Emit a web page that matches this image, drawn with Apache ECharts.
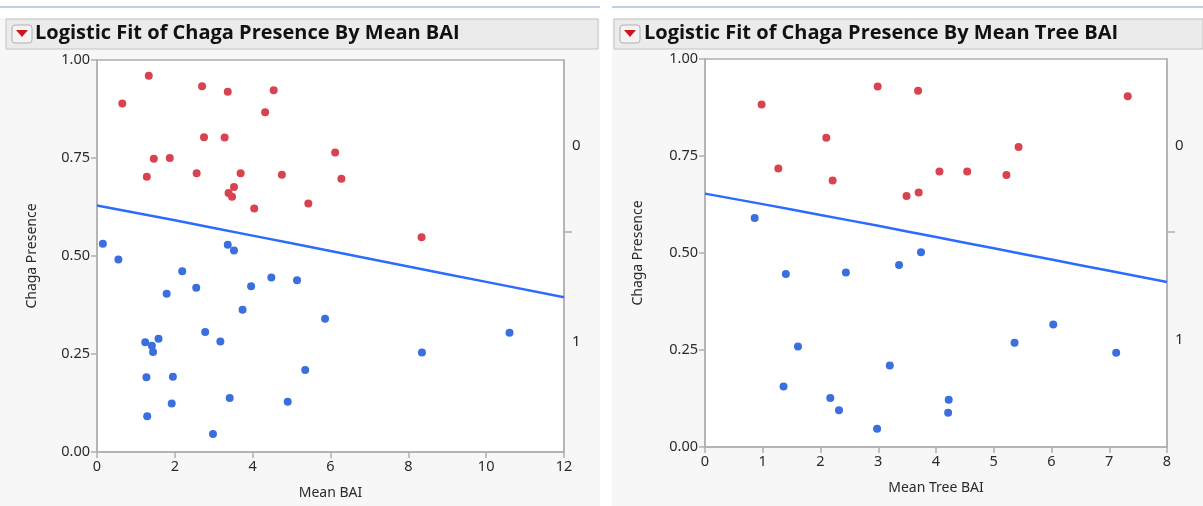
<!DOCTYPE html>
<html>
<head>
<meta charset="utf-8">
<script src="https://cdn.jsdelivr.net/npm/echarts@6/dist/echarts.min.js"></script>
<style>
html,body{margin:0;padding:0;background:#f7f7f7;}
#chart{width:1203px;height:506px;}
</style>
</head>
<body>
<div id="chart"></div>
<script>
// ---------- data ----------
const titles = ['Logistic Fit of Chaga Presence By Mean BAI', 'Logistic Fit of Chaga Presence By Mean Tree BAI'];
const xNames = ['Mean BAI', 'Mean Tree BAI'];
const yName = 'Chaga Presence';
const yTicks = [0, 0.25, 0.5, 0.75, 1];
const levelLabels = ['0', '1'];

// Left panel: Mean BAI
const baiRedX = [1.33,0.65,2.70,3.36,4.54,4.32,2.75,3.28,1.46,1.87,1.28,2.56,3.69,4.75,3.52,3.38,3.47,4.04,5.43,6.12,6.28,8.34];
const baiRedY = [0.960,0.889,0.933,0.919,0.923,0.867,0.803,0.802,0.748,0.750,0.702,0.711,0.711,0.707,0.676,0.661,0.651,0.621,0.634,0.764,0.697,0.548];
const baiBlueX = [0.15,3.36,3.52,0.55,2.19,1.79,2.55,3.96,4.48,5.14,3.74,5.86,2.78,3.17,1.24,1.58,1.41,1.44,1.27,1.95,3.41,1.92,4.90,5.35,1.29,2.98,10.60,8.35];
const baiBlueY = [0.531,0.529,0.514,0.491,0.461,0.404,0.419,0.423,0.445,0.438,0.363,0.340,0.306,0.282,0.280,0.289,0.271,0.255,0.191,0.192,0.138,0.124,0.128,0.209,0.091,0.046,0.304,0.254];
const baiFitX = [0, 2, 4, 6, 8, 10, 12];
const baiFitY = [0.629, 0.591, 0.552, 0.513, 0.473, 0.434, 0.395];
const baiSplit = 0.563;

// Right panel: Mean Tree BAI
const treeRedX = [0.98,2.99,3.69,2.10,1.27,2.21,3.49,3.70,4.06,4.54,5.22,5.43,7.32];
const treeRedY = [0.883,0.929,0.918,0.797,0.718,0.687,0.647,0.656,0.710,0.710,0.701,0.773,0.904];
const treeBlueX = [0.86,3.74,3.36,1.40,2.44,1.61,3.20,1.36,2.17,2.32,2.98,4.22,4.21,5.36,6.03,7.12];
const treeBlueY = [0.590,0.502,0.469,0.446,0.450,0.259,0.210,0.156,0.126,0.095,0.047,0.122,0.088,0.269,0.316,0.243];
const treeFitX = [0, 1, 2, 3, 4, 5, 6, 7, 8];
const treeFitY = [0.653, 0.626, 0.598, 0.570, 0.541, 0.512, 0.483, 0.454, 0.425];
const treeSplit = 0.554;

// ---------- chart ----------
const zip = (a, b) => a.map((v, i) => [v, b[i]]);
const RED = '#d8434f', BLUE = '#3a6fdd', LINE = '#2b6cff';
const AXIS = '#b0b0b0';
const FONT = 'Noto Sans';
const TXT = '#2a2a2a';
const FS = 14.5;

function xAxis(gi, max, interval, name) {
  return {
    type: 'value', gridIndex: gi, min: 0, max: max, interval: interval,
    name: name, nameLocation: 'middle', nameGap: 34,
    nameTextStyle: { fontFamily: FONT, fontSize: 14, color: TXT },
    axisLine: { show: true, lineStyle: { color: AXIS, width: 1.5 } },
    axisTick: { show: true, length: 6, lineStyle: { color: AXIS, width: 1.5 } },
    axisLabel: { fontFamily: FONT, fontSize: FS, color: TXT, margin: 7 },
    splitLine: { show: false }
  };
}
function yAxis(gi, gap) {
  return {
    type: 'value', gridIndex: gi, min: 0, max: 1, interval: 0.25,
    name: yName, nameLocation: 'middle', nameGap: gap, nameRotate: 90,
    nameTextStyle: { fontFamily: FONT, fontSize: 14, color: TXT },
    axisLine: { show: true, lineStyle: { color: AXIS, width: 1.5 } },
    axisTick: { show: true, length: 6, lineStyle: { color: AXIS, width: 1.5 } },
    axisLabel: { fontFamily: FONT, fontSize: FS, color: TXT, margin: 7,
      formatter: v => v.toFixed(2) },
    splitLine: { show: false }
  };
}
function levelAxis(gi, split) {
  const mids = [(1 + split) / 2, split / 2];
  return {
    type: 'value', gridIndex: gi, min: 0, max: 1, position: 'right',
    axisLine: { show: true, lineStyle: { color: AXIS, width: 1.5 } },
    axisTick: { show: true, length: 8, customValues: [split], lineStyle: { color: AXIS, width: 1.5 } },
    axisLabel: { fontFamily: FONT, fontSize: 15, color: TXT, margin: 8,
      customValues: mids,
      formatter: v => (v > split ? levelLabels[0] : levelLabels[1]) },
    splitLine: { show: false }
  };
}
function scatter(xi, yi, data, color) {
  return { type: 'scatter', xAxisIndex: xi, yAxisIndex: yi, data: data,
    symbolSize: 8, itemStyle: { color: color, opacity: 1 }, silent: true, z: 3 };
}
function fitLine(xi, yi, data) {
  return { type: 'line', xAxisIndex: xi, yAxisIndex: yi, data: data, smooth: true,
    showSymbol: false, lineStyle: { color: LINE, width: 2.5 }, silent: true, z: 2 };
}
function header(x, w) {
  return [
    { type: 'rect', shape: { x: x, y: 19, width: w, height: 30 },
      style: { fill: '#ebebeb', stroke: '#c4c4c4', lineWidth: 1 } },
    { type: 'rect', shape: { x: x + 6, y: 25, width: 20, height: 18, r: 3 },
      style: { fill: '#f3f3f3', stroke: '#b0b0b0', lineWidth: 1 } },
    { type: 'polygon', shape: { points: [[x + 10, 30], [x + 22, 30], [x + 16, 37]] },
      style: { fill: '#d0141e' } }
  ];
}

const TSTYLE = { fontFamily: 'Open Sans', fontWeight: 'bold', fontSize: 20, color: '#111' };
const option = {
  backgroundColor: '#f7f7f7',
  animation: false,
  title: [
    { text: titles[0], left: 35, top: 23, padding: 0, textStyle: TSTYLE },
    { text: titles[1], left: 644, top: 23, padding: 0, textStyle: TSTYLE }
  ],
  graphic: [
    { type: 'rect', shape: { x: 0, y: 0, width: 1203, height: 18 }, style: { fill: '#ffffff' } },
    { type: 'line', shape: { x1: 0, y1: 7, x2: 600, y2: 7 }, style: { stroke: '#a9c0dc', lineWidth: 1.5 } },
    { type: 'line', shape: { x1: 612, y1: 7, x2: 1203, y2: 7 }, style: { stroke: '#a9c0dc', lineWidth: 1.5 } },
    { type: 'rect', shape: { x: 600, y: 18, width: 12, height: 488 }, style: { fill: '#ffffff' } },
    ...header(6, 592),
    ...header(614, 589)
  ],
  grid: [
    { left: 97, top: 60, width: 467, height: 392, show: true, backgroundColor: '#ffffff', borderColor: AXIS, borderWidth: 1.5 },
    { left: 705, top: 59, width: 462, height: 388, show: true, backgroundColor: '#ffffff', borderColor: AXIS, borderWidth: 1.5 }
  ],
  xAxis: [ xAxis(0, 12, 2, xNames[0]), xAxis(1, 8, 1, xNames[1]) ],
  yAxis: [ yAxis(0, 58), levelAxis(0, baiSplit), yAxis(1, 60), levelAxis(1, treeSplit) ],
  series: [
    fitLine(0, 0, zip(baiFitX, baiFitY)),
    scatter(0, 0, zip(baiRedX, baiRedY), RED),
    scatter(0, 0, zip(baiBlueX, baiBlueY), BLUE),
    fitLine(1, 2, zip(treeFitX, treeFitY)),
    scatter(1, 2, zip(treeRedX, treeRedY), RED),
    scatter(1, 2, zip(treeBlueX, treeBlueY), BLUE)
  ]
};
const chart = echarts.init(document.getElementById('chart'), null, { renderer: 'canvas' });
chart.setOption(option);
</script>
</body>
</html>
